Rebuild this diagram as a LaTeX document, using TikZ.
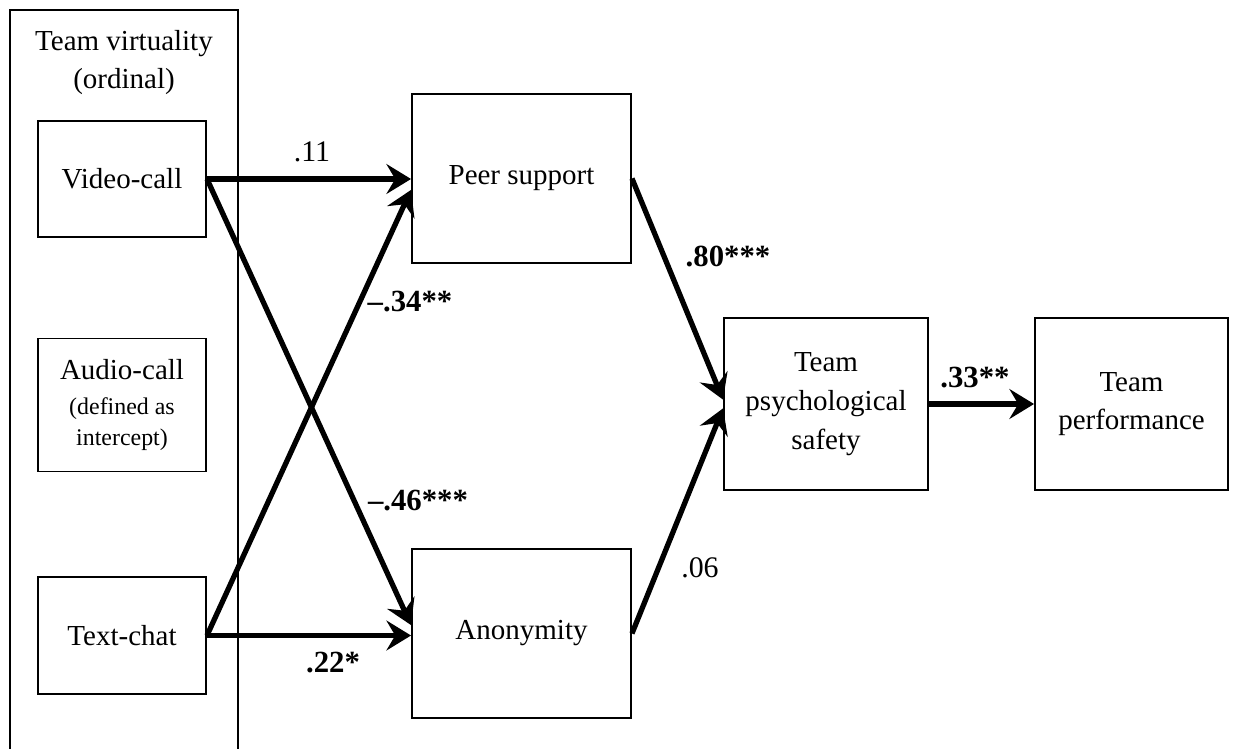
\documentclass[tikz,border=0pt]{standalone}
\usepackage{fontspec}
\setmainfont{Liberation Serif}
\usetikzlibrary{arrows.meta}
\tikzset{
 box/.style={draw,line width=1.1pt,align=center,inner sep=0pt,font=\fontsize{16.5}{22}\selectfont},
 link/.style={line width=3pt,-{Stealth[length=14pt,width=17pt,inset=5pt]}},
 coef/.style={font=\fontsize{17.5}{20}\selectfont\bfseries},
 coefn/.style={font=\fontsize{17}{20}\selectfont}
}
\newcommand{\smalltxt}{\fontsize{13.6}{17.6}\selectfont}
\begin{document}
\begin{tikzpicture}[x=0.2mm,y=-0.2mm]
\useasboundingbox (0,0) rectangle (1239,749);
% group frame for the virtuality levels
\draw[line width=1.1pt] (10,749) -- (10,10) -- (238,10) -- (238,749);
\node[align=center,font=\fontsize{16.5}{21.5}\selectfont] (virt) at (124,62.5) {Team virtuality\\(ordinal)};
\node[box,minimum width=33.6mm,minimum height=23.2mm] (video) at (122,179) {Video-call};
\node[box,minimum width=33.6mm,minimum height=26.6mm] (audio) at (122,405) {Audio-call\\[-2pt]\smalltxt(defined as\\[-4pt]\smalltxt intercept)};
\node[box,minimum width=33.6mm,minimum height=23.4mm] (chat) at (122,635.5) {Text-chat};
\node[box,minimum width=43.8mm,minimum height=33.8mm] (peer) at (521.5,178.5) {Peer support};
\node[box,minimum width=43.8mm,minimum height=33.8mm] (anon) at (521.5,633.5) {Anonymity};
\node[box,minimum width=40.8mm,minimum height=34.4mm] (safety) at (826,404) {Team\\psychological\\safety};
\node[box,minimum width=38.6mm,minimum height=34.4mm] (perf) at (1131.5,404) {Team\\performance};
% paths
\draw[link] (video.east) -- (video.east -| peer.west);
\draw[link] (video.east) -- ([yshift=4.8pt]anon.west);
\draw[link] (chat.east) -- ([yshift=-6.5pt]peer.west);
\draw[link] (chat.east) -- (chat.east -| anon.west);
\draw[link] (peer.east) -- ([yshift=2.5pt]safety.west);
\draw[link] (anon.east) -- ([yshift=-2.5pt]safety.west);
\draw[link] (safety.east) -- (perf.west);
% coefficients
\node[coefn] (c1) at (312,152) {.11};
\node[coef] (c2) at (410,302) {--.34**};
\node[coef] (c3) at (418,501) {--.46***};
\node[coef] (c4) at (333,663) {.22*};
\node[coef] (c5) at (728,256) {.80***};
\node[coefn] (c6) at (700,568) {.06};
\node[coef] (c7) at (975,378) {.33**};
\end{tikzpicture}
\end{document}
